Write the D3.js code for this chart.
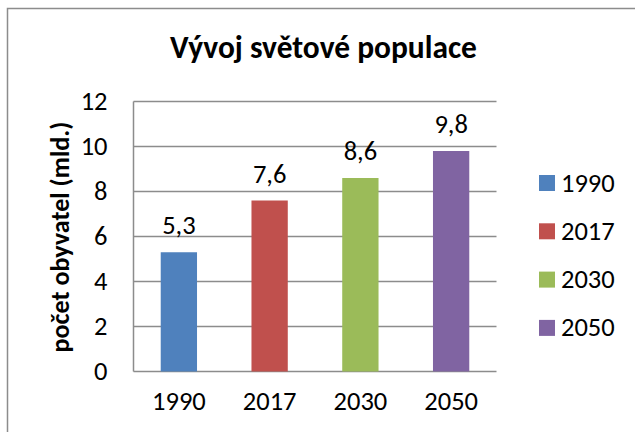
<!DOCTYPE html>
<html><head><meta charset="utf-8">
<script src="https://cdn.jsdelivr.net/npm/d3@7"></script>
<style>
html,body{margin:0;padding:0;background:#fff;}
svg{display:block;font-family:Carlito,Calibri,Lato,sans-serif;}
</style></head>
<body><svg id="c" width="635" height="432"></svg>
<script>
const categories = ["1990","2017","2030","2050"];
const values = [5.3, 7.6, 8.6, 9.8];
const valueLabels = ["5,3","7,6","8,6","9,8"];
const colors = ["#4F81BD","#C0504D","#9BBB59","#8064A2"];
const yTicks = [0,2,4,6,8,10,12];
const title = "Vývoj světové populace";
const yTitle = "počet obyvatel (mld.)";

const FS = 26.5;
const svg = d3.select("#c");
svg.append("rect").attr("x",7.5).attr("y",8.5).attr("width",700).attr("height",500)
  .attr("fill","#fff").attr("stroke","#8c8c8c").attr("stroke-width",1.5);

const L=133.5, R=496.5, T=101.5, B=371.5;
const x = d3.scaleBand().domain(categories).range([L,R]).paddingInner(0.6).paddingOuter(0.3);
const y = d3.scaleLinear().domain([0,12]).range([B,T]);

function fit(sel, target){
  const w = sel.node().getComputedTextLength();
  const fs = parseFloat(sel.attr("font-size"));
  sel.attr("font-size", fs*target/w);
}

svg.append("g").selectAll("line").data(yTicks).join("line")
  .attr("x1",L).attr("x2",R).attr("y1",d=>y(d)).attr("y2",d=>y(d))
  .attr("stroke","#8c8c8c").attr("stroke-width",1.5);
svg.append("line").attr("x1",L).attr("x2",L).attr("y1",T).attr("y2",B)
  .attr("stroke","#8c8c8c").attr("stroke-width",1.5);

const yAxis = d3.axisLeft(y).tickValues(yTicks).tickSize(0).tickPadding(26);
const gy = svg.append("g").attr("transform",`translate(${L},0)`).call(yAxis);
gy.select(".domain").remove();
gy.selectAll("text").attr("font-size",FS).attr("fill","#000").attr("font-family","Carlito,Calibri,Lato,sans-serif");

const xAxis = d3.axisBottom(x).tickSize(0).tickPadding(20);
const gx = svg.append("g").attr("transform",`translate(0,${B})`).call(xAxis);
gx.select(".domain").remove();
gx.selectAll("text").attr("font-size",FS).attr("fill","#000").attr("font-family","Carlito,Calibri,Lato,sans-serif");

svg.append("g").selectAll("rect").data(values).join("rect")
  .attr("x",(d,i)=>x(categories[i])).attr("width",x.bandwidth())
  .attr("y",d=>y(d)).attr("height",d=>B-y(d))
  .attr("fill",(d,i)=>colors[i]);

svg.append("g").selectAll("text").data(values).join("text")
  .attr("x",(d,i)=>x(categories[i])+x.bandwidth()/2)
  .attr("y",d=>y(d)-18).attr("text-anchor","middle")
  .attr("font-size",FS).attr("fill","#000")
  .text((d,i)=>valueLabels[i]);

const tt = svg.append("text").attr("x",323.5).attr("y",58).attr("text-anchor","middle")
  .attr("font-size",26).attr("font-weight","bold").attr("fill","#000").text(title);
fit(tt, 307);

const yt = svg.append("text").attr("transform","translate(69,237) rotate(-90)")
  .attr("text-anchor","middle").attr("font-size",21).attr("font-weight","bold").attr("fill","#000")
  .text(yTitle);
fit(yt, 231);

const lg = svg.append("g").selectAll("g").data(categories).join("g")
  .attr("transform",(d,i)=>`translate(539,${175+i*48.3})`);
lg.append("rect").attr("width",16).attr("height",16).attr("fill",(d,i)=>colors[i]);
lg.append("text").attr("x",22).attr("y",16.5).attr("font-size",FS).attr("fill","#000").text(d=>d);
</script></body></html>
